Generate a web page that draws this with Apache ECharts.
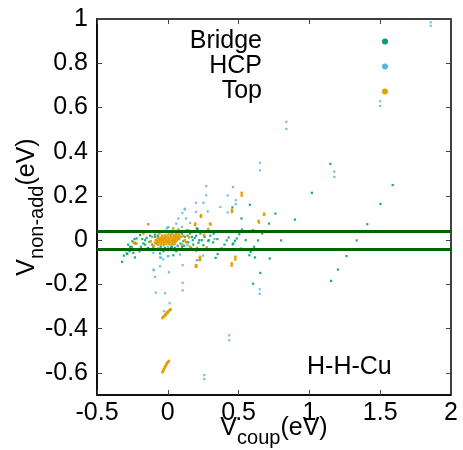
<!DOCTYPE html>
<html>
<head>
<meta charset="utf-8">
<script src="https://cdn.jsdelivr.net/npm/echarts@6/dist/echarts.min.js"></script>
<style>html,body{margin:0;padding:0;background:#fff;}#c{width:463px;height:450px;}</style>
</head>
<body>
<div id="c"></div>
<script>
var xTicks = [-0.5, 0, 0.5, 1, 1.5, 2];
var yTicks = [-0.6, -0.4, -0.2, 0, 0.2, 0.4, 0.6, 0.8, 1];
var seriesNames = ['Bridge', 'HCP', 'Top'];
var accuracyLines = [0.0434, -0.0434];

var bridgeData = [
 [1.148,0.345],[1.588,0.249],[1.018,0.214],[1.501,0.164],[1.409,0.072],[1.334,-0.001],[1.263,-0.072],
 [1.202,-0.133],[1.153,-0.184],[0.898,0.093],[0.8,-0.001],[0.72,-0.083],[0.76,0.12],[0.715,0.075],
 [0.58,0.16],[0.52,0.098],[0.524,0.048],[0.637,-0.001],[0.609,-0.03],[0.576,-0.068],[0.505,0.027],
 [0.487,0.008],[0.463,-0.015],[0.475,-0.003],[0.458,-0.019],[0.416,-0.001],[0.378,-0.038],[0.338,-0.08],
 [0.352,-0.063],[0.456,0.148],[0.211,0.051],[0.324,0.029],[0.289,0.0],[0.222,0.0],[0.385,-0.039],
 [-0.196,0.023],[-0.22,0.008],[-0.232,-0.015],[-0.255,-0.03],[-0.29,-0.06],[-0.323,-0.098],[-0.244,-0.057],
 [-0.2,-0.05],[0.616,-0.078],[0.653,-0.148],[0.602,-0.197],[0.667,0.03],[0.585,-0.053],[-0.232,-0.078],
 [-0.286,-0.063],[-0.232,-0.012],[-0.173,-0.015],[-0.13,-0.008],[-0.102,-0.03],[-0.067,-0.038],
 [-0.267,-0.03],[0.133,-0.008],[0.176,0.0],[0.216,-0.012],[0.251,-0.023],[0.286,-0.003],[0.157,0.03],
 [0.204,0.053],[0.004,-0.045],[0.039,-0.068],[-0.055,-0.06],[-0.15,0.01],[-0.16,-0.02],[-0.14,-0.035],
 [-0.12,-0.045],[-0.09,0.015],[-0.08,-0.015],[0.1,-0.03],[0.08,-0.04],[0.12,0.015],[0.14,0.02],
 [0.18,-0.02],[0.2,0.02],[0.24,0.0],[0.26,0.015],[0.3,0.02],[0.32,-0.01],[0.35,0.005],[-0.3,-0.045],
 [-0.27,-0.05],[-0.31,-0.07],[-0.18,0.005],[0.06,-0.05],[-0.03,-0.05],[0.02,-0.035],[0.43,0.012],
 [0.4,-0.02],[0.55,0.0],[-0.05,-0.03],[-0.02,-0.035],[0.03,-0.03],[0.05,-0.035],[0.07,-0.025],
 [0.09,-0.015],[-0.07,0.02],[-0.09,0.025],[0.1,0.03],[0.11,-0.005],[-0.11,-0.02],[-0.19,-0.03],
 [-0.25,-0.005],[0.165,-0.035],[0.19,0.01],[-0.21,-0.04],[-0.16,0.0],[-0.125,0.02],[0.115,-0.025],
 [0.145,-0.01],[0.17,0.015],[-0.235,0.005],[-0.28,-0.02],[0.23,0.03],[0.27,-0.04]
];

var hcpData = [
 [1.5,0.628],[1.5,0.607],[0.837,0.535],[0.837,0.503],[0.651,0.35],[0.651,0.316],[1.176,0.31],[1.176,0.286],
 [0.46,0.24],[1.857,0.985],[1.857,0.969],[0.423,0.202],[0.48,0.181],[0.48,0.163],[0.423,0.125],
 [0.371,0.15],[0.272,0.244],[0.272,0.203],[0.251,0.169],[0.199,0.169],[0.199,0.128],[0.282,0.13],
 [0.121,0.139],[0.103,0.123],[0.074,0.098],[0.129,0.098],[0.157,0.078],[0.218,-0.01],[0.138,-0.023],
 [0.0,0.057],[-0.008,0.053],[0.004,0.06],[-0.102,-0.057],[-0.048,-0.08],[-0.032,-0.087],[0.004,-0.072],
 [0.086,-0.065],[0.046,-0.045],[0.105,-0.113],[-0.055,-0.118],[-0.102,-0.133],[0.211,-0.09],
 [-0.097,-0.136],[-0.09,-0.166],[0.008,-0.145],[0.649,-0.222],[0.649,-0.243],[0.105,-0.193],
 [0.105,-0.227],[-0.085,-0.237],[-0.02,-0.24],[0.013,-0.285],[-0.025,-0.321],[0.434,-0.43],[0.434,-0.452],
 [0.258,-0.61],[0.258,-0.628],[0.204,-0.09],[0.204,-0.118],[0.0,-0.072],[-0.055,-0.078],[0.119,0.142],
 [-0.01,0.035],[0.01,0.03],[-0.03,-0.025],[0.0,-0.03],[0.02,-0.025],[0.04,-0.02],[-0.05,-0.015],
 [0.06,0.02],[0.08,0.025],[-0.07,0.01],[0.03,0.028],[0.05,-0.005],[-0.02,0.02],[0.07,-0.028],
 [0.12,0.04],[0.15,0.045],[0.1,0.06],[0.06,0.075],[0.33,0.005],[0.2,-0.05],[0.25,-0.07],[0.16,-0.04]
];

var topData = [
 [-0.04,0.02],[-0.021,0.021],[0.0,0.022],[0.02,0.023],[0.041,0.024],[0.06,0.025],[0.079,0.026],
 [-0.07,0.009],[-0.055,0.01],[-0.04,0.011],[-0.025,0.01],[-0.01,0.012],[0.005,0.011],[0.02,0.013],
 [0.035,0.012],[0.05,0.014],[0.065,0.013],[0.08,0.015],[0.095,0.016],
 [-0.085,0.0],[-0.07,-0.001],[-0.055,0.001],[-0.04,0.0],[-0.025,0.002],[-0.01,0.001],[0.005,0.002],
 [0.02,0.003],[0.035,0.002],[0.05,0.004],[0.065,0.003],[0.08,0.005],
 [-0.09,-0.011],[-0.075,-0.01],[-0.06,-0.009],[-0.045,-0.01],[-0.03,-0.008],[-0.015,-0.009],[0.0,-0.007],
 [0.015,-0.008],[0.03,-0.006],[0.045,-0.007],[0.06,-0.005],
 [-0.07,-0.02],[-0.05,-0.019],[-0.03,-0.018],[-0.01,-0.018],[0.01,-0.017],[0.03,-0.016],[0.05,-0.015],
 [-0.038,-0.352],[-0.032,-0.347],[-0.026,-0.343],[-0.02,-0.339],[-0.014,-0.334],[-0.008,-0.33],
 [-0.002,-0.326],[0.004,-0.322],[0.01,-0.318],[0.016,-0.315],[0.02,-0.313],[-0.015,-0.338],[0.0,-0.327],
 [-0.038,-0.597],[-0.033,-0.59],[-0.028,-0.583],[-0.022,-0.576],[-0.016,-0.569],[-0.01,-0.562],
 [-0.004,-0.555],[0.002,-0.55],[0.008,-0.546],[-0.019,-0.572],[-0.007,-0.558],
 [0.522,0.214],[0.522,0.202],[0.68,0.12],[0.68,0.115],[0.64,0.087],[0.644,0.08],[0.453,0.137],
 [0.453,0.128],[0.303,0.071],[0.234,0.113],[0.234,0.106],[0.194,0.075],[0.286,0.051],[0.256,0.024],
 [0.206,-0.035],[0.275,-0.033],[0.6,0.045],[0.517,-0.038],[0.477,-0.075],[0.477,-0.087],[0.199,-0.113],
 [0.199,-0.12],[0.227,-0.075],[0.227,-0.09],[0.451,-0.105],[0.451,-0.115],[-0.138,0.072],[-0.161,0.038],
 [-0.173,0.03],[0.192,0.068],[0.298,0.075],[0.039,0.053],[0.074,0.048],[0.133,0.045],[0.157,-0.03],
 [-0.032,-0.045],[-0.22,-0.015],[-0.24,-0.012],[0.227,-0.083],[0.11,0.02],[0.12,0.0],[0.13,-0.01],
 [-0.11,0.015],[-0.12,-0.005],[0.1,-0.02],[-0.1,-0.025],[0.06,0.032],[-0.06,0.03],[0.15,0.012]
];

var fmt = function (v) { return String(Math.round(v * 10) / 10); };
var tickStyle = { show: true, inside: true, length: 5, lineStyle: { color: '#444', width: 1 } };
var axisFont = { fontFamily: 'Liberation Sans', fontSize: 25, color: '#000' };
var nameRich = {
  v: { fontFamily: 'Liberation Sans', fontSize: 25, color: '#000', verticalAlign: 'bottom', lineHeight: 25, padding: [0, 0, 7, 0] },
  s: { fontFamily: 'Liberation Sans', fontSize: 20, color: '#000', verticalAlign: 'bottom', lineHeight: 20 }
};

var chart = echarts.init(document.getElementById('c'), null, { renderer: 'canvas' });
chart.setOption({
  animation: false,
  backgroundColor: '#fff',
  textStyle: { fontFamily: 'Liberation Sans' },
  grid: { left: 97, right: 12, top: 19, bottom: 55, containLabel: false, outerBoundsMode: 'none',
    show: true, borderColor: '#000', borderWidth: 1.5, backgroundColor: 'transparent' },
  title: {
    text: 'H-H-Cu', left: 307, top: 355, padding: 0,
    textStyle: { fontFamily: 'Liberation Sans', fontSize: 25, fontWeight: 'normal', color: '#000' }
  },
  legend: {
    data: seriesNames, orient: 'vertical', align: 'right', right: 70, top: 24,
    icon: 'circle', itemWidth: 6, itemHeight: 6, itemGap: 0,
    itemStyle: { opacity: 1 },
    textStyle: { fontFamily: 'Liberation Sans', fontSize: 25, color: '#000', lineHeight: 24, padding: [0, 115, 0, 0] }
  },
  xAxis: [{
    type: 'value', min: xTicks[0], max: xTicks[xTicks.length - 1], interval: 0.5,
    axisLine: { show: true, onZero: false, lineStyle: { color: '#000', width: 1.5 } },
    axisTick: tickStyle, splitLine: { show: false },
    axisLabel: Object.assign({ margin: 6, formatter: fmt }, axisFont),
    name: '{v|V}{s|coup}{v|(eV)}', nameLocation: 'middle', nameGap: 28, nameMoveOverlap: false,
    nameTextStyle: { rich: nameRich }
  }, {
    type: 'value', position: 'top', min: xTicks[0], max: xTicks[xTicks.length - 1], interval: 0.5,
    axisLine: { show: false, onZero: false }, axisTick: tickStyle, axisLabel: { show: false }, splitLine: { show: false }
  }],
  yAxis: [{
    type: 'value', min: -0.7, max: 1,
    axisLine: { show: true, onZero: false, lineStyle: { color: '#000', width: 1.5 } },
    axisTick: Object.assign({ customValues: yTicks }, tickStyle), splitLine: { show: false },
    axisLabel: Object.assign({ margin: 9, formatter: fmt, customValues: yTicks }, axisFont),
    name: '{v|V}{s|non-add}{v|(eV)}', nameLocation: 'middle', nameGap: 50, nameMoveOverlap: false,
    nameTextStyle: { rich: nameRich }
  }, {
    type: 'value', position: 'right', min: -0.7, max: 1,
    axisLine: { show: false, onZero: false }, axisTick: Object.assign({ customValues: yTicks }, tickStyle),
    axisLabel: { show: false, customValues: yTicks }, splitLine: { show: false }
  }],
  series: [
    { name: 'Bridge', type: 'scatter', data: bridgeData, symbol: 'rect', symbolSize: 2.2, itemStyle: { color: '#009e73', opacity: 0.9 } },
    { name: 'HCP', type: 'scatter', data: hcpData, symbol: 'rect', symbolSize: 2.2, itemStyle: { color: '#56b4e9', opacity: 0.85 } },
    { name: 'Top', type: 'scatter', data: topData, symbol: 'rect', symbolSize: 2.5, itemStyle: { color: '#e69f00', opacity: 1 } },
    { name: 'accuracy', type: 'scatter', data: [], silent: true,
      markLine: { silent: true, symbol: 'none', label: { show: false },
        lineStyle: { color: '#006400', width: 3, type: 'solid' },
        data: accuracyLines.map(function (v) { return { yAxis: v }; }) } }
  ]
});
</script>
</body>
</html>
